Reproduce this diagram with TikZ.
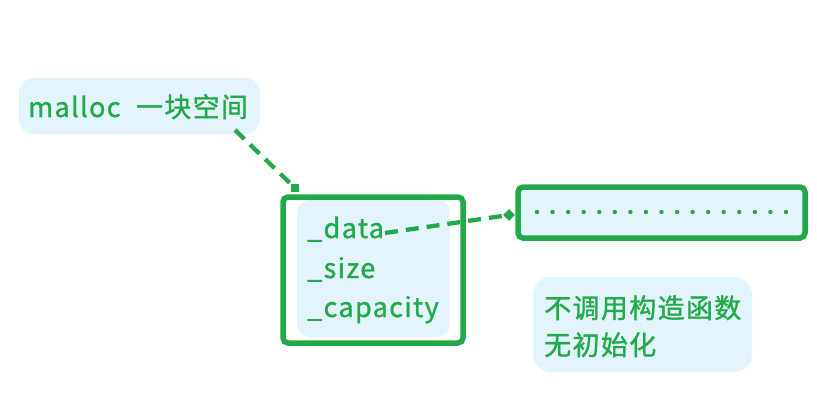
\documentclass[tikz,border=0pt]{standalone}
\usepackage{fontspec}
\setmainfont{Noto Sans CJK SC}[LetterSpace=5,FakeBold=1.2]
\usetikzlibrary{arrows.meta,shapes.geometric}
\definecolor{gr}{RGB}{34,170,74}
\definecolor{lb}{RGB}{227,244,253}
\tikzset{
  bubble/.style={fill=lb, draw=none, inner sep=0pt},
  txt/.style={text=gr, inner sep=0pt, anchor=base west, font=\fontsize{27}{32}\selectfont},
  frame/.style={draw=gr, line width=5.5pt, rounded corners=5pt},
  conn/.style={draw=gr, line width=4.3pt, dash pattern=on 13pt off 8pt},
  dotmark/.style={circle, fill=gr, inner sep=0pt, minimum size=4.4pt}
}
\begin{document}
\begin{tikzpicture}[x=1pt,y=-1pt]
\useasboundingbox (0,0) rectangle (817,405);
% bubble 1
\node[bubble, rounded corners=15pt, minimum width=241pt, minimum height=56pt] (b1) at (139.5,106) {};
\node[txt] (t1) at (28,117) {malloc\hspace{8pt} 一块空间};
% struct box
\node[bubble, rounded corners=13pt, minimum width=153pt, minimum height=137pt] (inner) at (373.5,268.5) {};
\node[frame, minimum width=180pt, minimum height=146pt, inner sep=0pt] (box) at (373,270) {};
\node[txt] (d) at (307,238) {\_data};
\node[txt] (s) at (307,278) {\_size};
\node[txt] (c) at (307,317) {\_capacity};
% buffer
\node[bubble, rounded corners=6pt, minimum width=291pt, minimum height=55pt] (bufbg) at (661.5,212.5) {};
\node[frame, minimum width=287pt, minimum height=51pt, inner sep=0pt, fill=lb] (buf) at (661.5,212.5) {};
\foreach \i in {0,...,16} {
  \node[dotmark] (dot\i) at ({537+\i*15.56},212) {};
}
% bubble 2
\node[bubble, rounded corners=18pt, minimum width=219pt, minimum height=95pt] (b2) at (642.5,324.5) {};
\node[txt] (u1) at (544,318) {不调用构造函数};
\node[txt] (u2) at (544,355) {无初始化};
% connectors
\coordinate (sq) at (295,188);
\coordinate (st1) at (235,130);
\draw[conn] (st1) -- (sq);
\node[fill=gr, minimum size=8pt, inner sep=0pt] (sqm) at (sq) {};
\coordinate (st2) at (385,233);
\coordinate (dm) at (509,215);
\draw[conn] (st2) -- (dm);
\node[fill=gr, diamond, minimum size=12pt, inner sep=0pt] (dmm) at (dm) {};
\end{tikzpicture}
\end{document}
